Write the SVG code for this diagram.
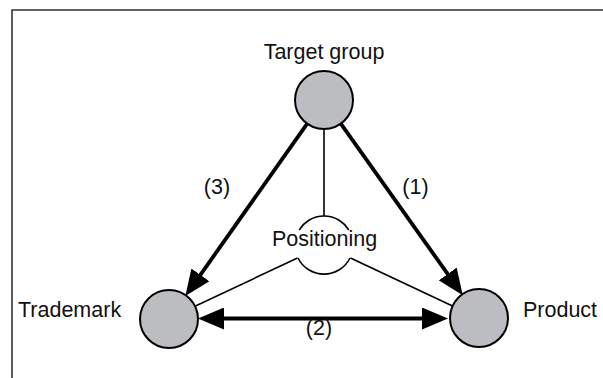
<svg xmlns="http://www.w3.org/2000/svg" width="603" height="378" viewBox="0 0 603 378">
  <style>
    .lbl { font-family: "Liberation Sans", Arial, sans-serif; font-size: 21.5px; fill: #111; }
    .mid { text-anchor: middle; }
    .node { fill: #bcbdc1; stroke: #000; stroke-width: 2; }
    .thin { stroke: #000; stroke-width: 1.6; fill: none; }
    .thick { stroke: #000; stroke-width: 3.8; fill: none; }
    .frame { stroke: #333; stroke-width: 1.6; fill: none; }
  </style>
  <defs>
    <marker id="head" markerUnits="userSpaceOnUse" markerWidth="26" markerHeight="22" viewBox="0 0 26 22" refX="14" refY="11" orient="auto-start-reverse">
      <path d="M0,0 L26,11 L0,22 Z" fill="#000"/>
    </marker>
  </defs>

  <rect width="603" height="378" fill="#fff"/>
  <path class="frame" d="M12,378 V10 H603"/>

  <g id="connectors">
    <!-- spokes to the positioning hub -->
    <line class="thin" x1="324" y1="129" x2="324" y2="216"/>
    <line class="thin" x1="297.5" y1="258" x2="195.5" y2="306"/>
    <line class="thin" x1="350.5" y1="258" x2="452.5" y2="306"/>
    <!-- (1) target group to product -->
    <line class="thick" x1="340.8" y1="123.6" x2="455.8" y2="285.4" marker-end="url(#head)"/>
    <!-- (3) target group to trademark -->
    <line class="thick" x1="307.2" y1="123.6" x2="192.3" y2="286.3" marker-end="url(#head)"/>
    <!-- (2) trademark and product -->
    <line class="thick" x1="210" y1="318.5" x2="436" y2="318.5" marker-start="url(#head)" marker-end="url(#head)"/>
  </g>

  <g id="positioning">
    <path class="thin" d="M299.2,230 A29,29 0 0 1 348.8,230"/>
    <path class="thin" d="M298,258 A29,29 0 0 0 350,258"/>
    <text class="lbl mid" x="324.5" y="246">Positioning</text>
  </g>

  <g id="target-group">
    <circle class="node" cx="324" cy="100" r="29"/>
    <text class="lbl mid" x="324" y="59">Target group</text>
  </g>

  <g id="trademark">
    <circle class="node" cx="169" cy="319" r="29"/>
    <text class="lbl" x="18" y="317">Trademark</text>
  </g>

  <g id="product">
    <circle class="node" cx="479" cy="318" r="29"/>
    <text class="lbl" x="523" y="317">Product</text>
  </g>

  <g id="labels">
    <text class="lbl mid" x="217" y="194">(3)</text>
    <text class="lbl mid" x="415.5" y="194">(1)</text>
    <text class="lbl mid" x="319" y="335">(2)</text>
  </g>
</svg>
